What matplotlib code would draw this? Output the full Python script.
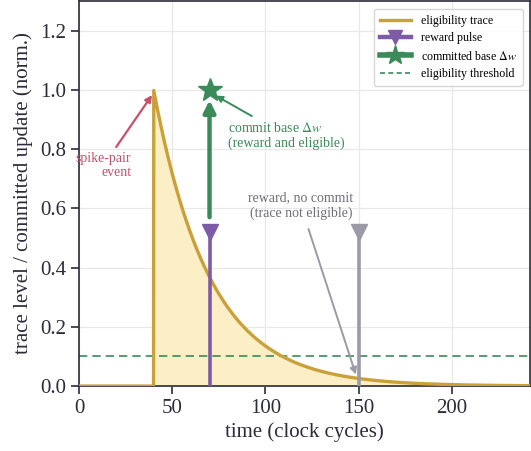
import numpy as np
import matplotlib
matplotlib.use("Agg")
import matplotlib.pyplot as plt
from matplotlib.lines import Line2D

plt.rcParams['font.family'] = ['Liberation Serif', 'DejaVu Serif']
plt.rcParams['mathtext.fontset'] = 'stix'

# Eligibility trace: spike-pair at t=40, exponential decay
t_spike = 40
tau = 30
t_end = 242
reward_t = 70
late_reward_t = 150
pulse_height = 0.52
commit_value = 1.0
threshold = 0.1

t = np.linspace(0, t_end, 2000)
trace = np.where(t >= t_spike, np.exp(-(t - t_spike) / tau), 0.0)

c_trace = '#c9a03a'
c_fill = '#fcefc6'
c_purple = '#7d5ba6'
c_green = '#3b8a5a'
c_gray = '#9b9aa6'
c_red = '#c9506b'
c_dark = '#2b2b3a'

fig = plt.figure(figsize=(5.31, 4.51), dpi=100)
ax = fig.add_axes([0.149, 0.144, 0.849, 0.854])

ax.fill_between(t, 0, trace, color=c_fill, zorder=1)
ax.plot(t, trace, color=c_trace, lw=2.4, zorder=3)

# threshold
ax.axhline(threshold, color=c_green, lw=1.2, ls=(0, (5, 3)), zorder=2)

# reward pulse at eligible time
ax.plot([reward_t, reward_t], [0, pulse_height], color=c_purple, lw=2.6, zorder=4)
ax.plot([reward_t], [pulse_height], marker='v', color=c_purple, ms=11, zorder=5)

# late reward, not eligible
ax.plot([late_reward_t, late_reward_t], [0, pulse_height], color=c_gray, lw=2.6, zorder=4)
ax.plot([late_reward_t], [pulse_height], marker='v', color=c_gray, ms=11, zorder=5)

# committed update
ax.annotate('', xy=(reward_t, 0.965), xytext=(reward_t, 0.57),
            arrowprops=dict(arrowstyle='-|>,head_length=0.7,head_width=0.35',
                            color=c_green, lw=3.2, shrinkA=0, shrinkB=0), zorder=5)
ax.plot([reward_t], [commit_value], marker='*', color=c_green, ms=18, zorder=6)

ax.annotate('spike-pair\nevent', xy=(t_spike, 0.99), xytext=(28, 0.745),
            ha='right', va='center', color=c_red, fontsize=10,
            linespacing=1.05,
            arrowprops=dict(arrowstyle='-|>', color=c_red, lw=1.6,
                            shrinkA=2, shrinkB=2))
ax.annotate('commit base $\\Delta w$\n(reward and eligible)',
            xy=(reward_t + 2, 0.985), xytext=(80, 0.845),
            ha='left', va='center', color=c_green, fontsize=10,
            arrowprops=dict(arrowstyle='-|>', color=c_green, lw=1.4,
                            shrinkA=3, shrinkB=2))
ax.annotate('reward, no commit\n(trace not eligible)',
            xy=(late_reward_t - 1, 0.03), xytext=(119, 0.61),
            ha='center', va='center', color='#6e6e7a', fontsize=10,
            arrowprops=dict(arrowstyle='-|>', color=c_gray, lw=1.4,
                            shrinkA=5, shrinkB=2))

ax.set_xlim(0, t_end)
ax.set_ylim(0, 1.3)
ax.set_xticks([0, 50, 100, 150, 200])
ax.set_yticks([0.0, 0.2, 0.4, 0.6, 0.8, 1.0, 1.2])
ax.set_yticklabels([f'{v:.1f}' for v in ax.get_yticks()])
ax.grid(True, color='#e8e8e8', lw=0.9, zorder=0)
ax.set_axisbelow(True)
ax.tick_params(labelsize=15, colors=c_dark, length=6, width=1.2, direction='out')
for s in ax.spines.values():
    s.set_color(c_dark)
    s.set_linewidth(1.2)
ax.set_xlabel('time (clock cycles)', fontsize=15, color=c_dark, labelpad=3)
ax.set_ylabel('trace level / committed update (norm.)', fontsize=15, color=c_dark,
              labelpad=5)

handles = [
    Line2D([], [], color=c_trace, lw=2.4),
    Line2D([], [], color=c_purple, lw=3.2, marker='v', ms=10),
    Line2D([], [], color=c_green, lw=4, marker='*', ms=14),
    Line2D([], [], color=c_green, lw=1.2, ls=(0, (3, 2))),
]
labels = ['eligibility trace', 'reward pulse', 'committed base $\\Delta w$',
          'eligibility threshold']
ax.legend(handles, labels, loc='upper right', fontsize=8.6, frameon=True,
          edgecolor='#cccccc', fancybox=True, borderpad=0.5, handlelength=2.6,
          labelspacing=0.45, bbox_to_anchor=(0.997, 0.995))

fig.savefig('out.png', dpi=100)
